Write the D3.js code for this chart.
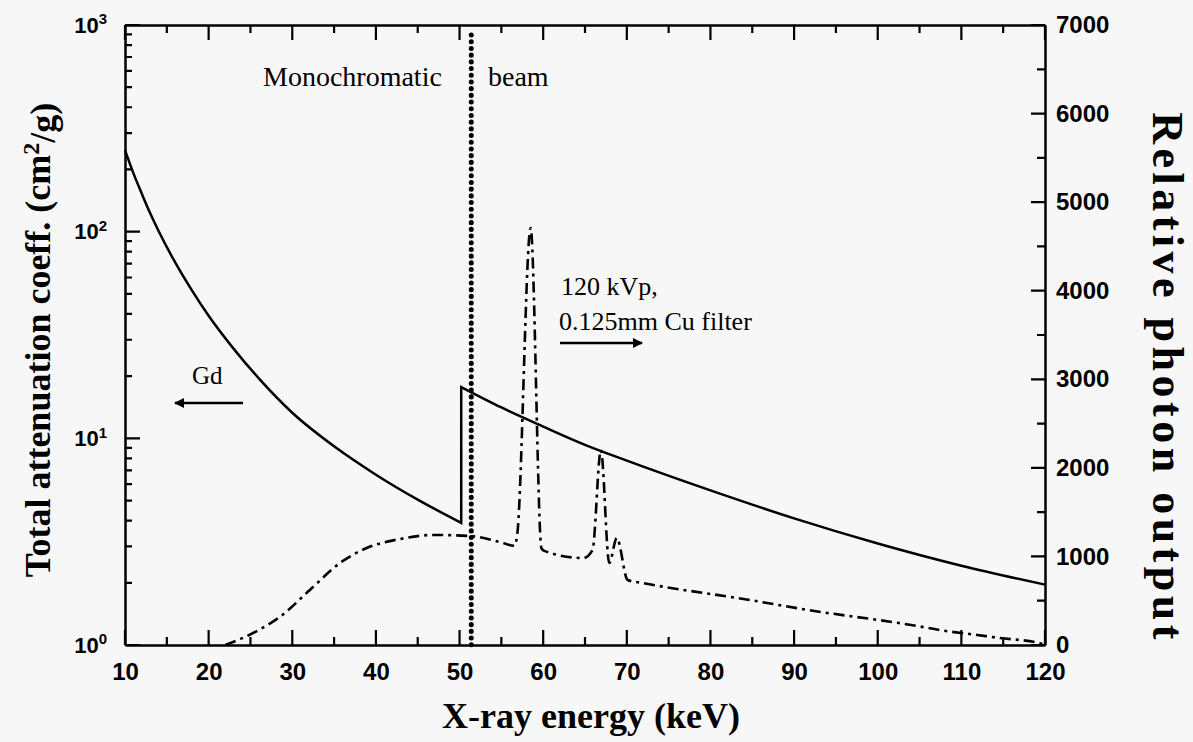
<!DOCTYPE html>
<html>
<head>
<meta charset="utf-8">
<script src="https://cdn.jsdelivr.net/npm/d3@7"></script>
<style>
  body { margin: 0; background: #f7f7f7; }
</style>
</head>
<body>
<div id="chart"></div>
<script>
// Gd total attenuation coefficient (cm2/g), split at the K-edge
const gdEnergyLow = [10, 11, 12, 13, 14, 16, 18, 20, 23, 26, 30, 35, 40, 45, 50.2];
const gdMuLow = [248, 192, 153, 123, 101, 71, 52, 39.2, 27.1, 19.5, 13.3, 9.15, 6.67, 5.05, 3.9];
const gdEnergyHigh = [50.2, 55, 60, 65, 70, 80, 90, 100, 110, 120];
const gdMuHigh = [17.7, 14.1, 11.4, 9.3, 7.8, 5.6, 4.1, 3.1, 2.42, 1.96];

// 120 kVp spectrum, 0.125 mm Cu filter (relative photon output)
const specEnergy = [22, 24.1, 26, 28.5, 32.1, 35.7, 38.9, 42.9, 46.8, 51.2, 54.8, 56.6, 56.9, 58.5, 59.8, 60.2,
  64.8, 65.9, 66.9, 67.9, 68.8, 70.1, 71.9, 84.7, 91.7, 104.7, 107.4, 111.9, 114.6, 119.4, 120];
const specCounts = [0, 80, 170, 316, 621, 926, 1095, 1197, 1242, 1231, 1163, 1120, 1250, 4708, 1090, 1060,
  982, 1073, 2200, 926, 1208, 734, 700, 508, 395, 215, 169, 113, 79, 20, 0];

const monoEnergy = 51.4;

// ticks
const xMajor = [10, 20, 30, 40, 50, 60, 70, 80, 90, 100, 110, 120];
const xMinor = [15, 25, 35, 45, 55, 65, 75, 85, 95, 105, 115];
const yLeftMajor = [1, 10, 100, 1000];
const yRightMajor = [0, 1000, 2000, 3000, 4000, 5000, 6000, 7000];
const yRightMinor = [500, 1500, 2500, 3500, 4500, 5500, 6500];

const width = 1193;
const height = 742;
const margin = { top: 25, right: 148, bottom: 97, left: 125 };

const svg = d3.select('#chart')
  .append('svg')
  .attr('width', width)
  .attr('height', height)
  .style('background', '#f7f7f7');

const x = d3.scaleLinear()
  .domain([10, 120])
  .range([margin.left, width - margin.right]);

const yL = d3.scaleLog()
  .domain([1, 1000])
  .range([height - margin.bottom, margin.top]);

const yR = d3.scaleLinear()
  .domain([0, 7000])
  .range([height - margin.bottom, margin.top]);

const yLeftMinor = [];
[1, 10, 100].forEach(p => { for (let k = 2; k <= 9; k++) yLeftMinor.push(p * k); });

const sans = '"Liberation Sans", Arial, sans-serif';
const serif = '"Liberation Serif", "Times New Roman", serif';

const xLeft = margin.left, xRight = width - margin.right;
const yBottom = height - margin.bottom, yTop = margin.top;

function styleAxis(g, size) {
  g.select('.domain').attr('stroke', '#000').attr('stroke-width', 2.5);
  g.selectAll('.tick line').remove();
  g.selectAll('.tick text')
    .attr('font-family', sans)
    .attr('font-weight', 'bold')
    .attr('font-size', size)
    .attr('fill', '#000');
}

// axes (frame + labels)
svg.append('g')
  .attr('transform', `translate(0,${yBottom})`)
  .call(d3.axisBottom(x).tickValues(xMajor).tickSize(0).tickPadding(18))
  .call(g => styleAxis(g, 24));

svg.append('g')
  .attr('transform', `translate(0,${yTop})`)
  .call(d3.axisTop(x).tickValues([]).tickSize(0))
  .call(g => styleAxis(g, 24));

const gLeft = svg.append('g')
  .attr('transform', `translate(${xLeft},0)`)
  .call(d3.axisLeft(yL).tickValues(yLeftMajor).tickSize(0).tickPadding(18))
  .call(g => styleAxis(g, 22));
gLeft.selectAll('.tick text').each(function (d) {
  const t = d3.select(this).text(null);
  t.append('tspan').text('10');
  t.append('tspan').attr('dy', '-0.55em').attr('font-size', 15).text(Math.round(Math.log10(d)));
});

svg.append('g')
  .attr('transform', `translate(${xRight},0)`)
  .call(d3.axisRight(yR).tickValues(yRightMajor).tickFormat(d3.format('d')).tickSize(0).tickPadding(11))
  .call(g => styleAxis(g, 24));

// inward tick marks on all four sides, one path
const tickSegs = [];
xMajor.forEach(d => {
  tickSegs.push([x(d), yBottom, x(d), yBottom - 15]);
  tickSegs.push([x(d), yTop, x(d), yTop + 15]);
});
xMinor.forEach(d => {
  tickSegs.push([x(d), yBottom, x(d), yBottom - 8]);
  tickSegs.push([x(d), yTop, x(d), yTop + 8]);
});
yLeftMajor.forEach(d => tickSegs.push([xLeft, yL(d), xLeft + 15, yL(d)]));
yLeftMinor.forEach(d => tickSegs.push([xLeft, yL(d), xLeft + 7, yL(d)]));
yRightMajor.forEach(d => tickSegs.push([xRight, yR(d), xRight - 14, yR(d)]));
yRightMinor.forEach(d => tickSegs.push([xRight, yR(d), xRight - 8, yR(d)]));

const tp = d3.path();
tickSegs.forEach(s => { tp.moveTo(s[0], s[1]); tp.lineTo(s[2], s[3]); });
svg.append('path')
  .attr('d', tp.toString())
  .attr('fill', 'none')
  .attr('stroke', '#000')
  .attr('stroke-width', 2.2);

// Gd attenuation curve
const gdLine = d3.line()
  .x(d => x(d[0]))
  .y(d => yL(d[1]))
  .curve(d3.curveMonotoneX);

const low = gdEnergyLow.map((e, i) => [e, gdMuLow[i]]);
const high = gdEnergyHigh.map((e, i) => [e, gdMuHigh[i]]);

svg.append('path')
  .attr('d', gdLine(low) + gdLine(high).replace(/^M/, 'L'))
  .attr('fill', 'none')
  .attr('stroke', '#000')
  .attr('stroke-width', 2.5)
  .attr('stroke-linejoin', 'miter');

// spectrum (dash-dot)
const specLine = d3.line()
  .x((d, i) => x(specEnergy[i]))
  .y(d => yR(d))
  .curve(d3.curveMonotoneX);

svg.append('path')
  .attr('d', specLine(specCounts))
  .attr('fill', 'none')
  .attr('stroke', '#000')
  .attr('stroke-width', 2.6)
  .attr('stroke-dasharray', '11,5,3,5');

// monochromatic beam marker
svg.append('line')
  .attr('x1', x(monoEnergy)).attr('x2', x(monoEnergy))
  .attr('y1', yTop + 10).attr('y2', yBottom)
  .attr('stroke', '#000')
  .attr('stroke-width', 5)
  .attr('stroke-linecap', 'round')
  .attr('stroke-dasharray', '0.1,6.6');

// arrows
svg.append('defs').append('marker')
  .attr('id', 'arrow')
  .attr('viewBox', '0 0 10 10')
  .attr('refX', 9).attr('refY', 5)
  .attr('markerWidth', 6).attr('markerHeight', 4)
  .attr('markerUnits', 'strokeWidth')
  .attr('orient', 'auto')
  .append('path')
  .attr('d', 'M0,0 L10,5 L0,10 Z')
  .attr('fill', '#000');

svg.append('line')
  .attr('x1', 560).attr('x2', 642).attr('y1', 343).attr('y2', 343)
  .attr('stroke', '#000').attr('stroke-width', 2.5)
  .attr('marker-end', 'url(#arrow)');
svg.append('line')
  .attr('x1', 243).attr('x2', 175).attr('y1', 403).attr('y2', 403)
  .attr('stroke', '#000').attr('stroke-width', 2.5)
  .attr('marker-end', 'url(#arrow)');

// annotations
const note = (txt, px, py, size) => svg.append('text')
  .attr('x', px).attr('y', py)
  .attr('font-family', serif)
  .attr('font-size', size)
  .attr('fill', '#000')
  .text(txt);

note('Monochromatic', 263, 86, 28);
note('beam', 488, 86, 28);
note('120 kVp,', 561, 295, 26);
note('0.125mm Cu filter', 559, 330, 26);
note('Gd', 192, 384, 25);

// axis titles
svg.append('text')
  .attr('x', 591).attr('y', 728)
  .attr('text-anchor', 'middle')
  .attr('font-family', serif).attr('font-weight', 'bold').attr('font-size', 36)
  .text('X-ray energy (keV)');

const yTitle = svg.append('text')
  .attr('transform', 'translate(50,340) rotate(-90)')
  .attr('text-anchor', 'middle')
  .attr('font-family', serif).attr('font-weight', 'bold').attr('font-size', 36);
yTitle.append('tspan').text('Total attenuation coeff. (cm');
yTitle.append('tspan').attr('dy', '-0.45em').attr('font-size', 24).text('2');
yTitle.append('tspan').attr('dy', '0.45em').text('/g)');

svg.append('text')
  .attr('transform', 'translate(1153,378) rotate(90)')
  .attr('text-anchor', 'middle')
  .attr('font-family', serif).attr('font-weight', 'bold').attr('font-size', 44)
  .attr('letter-spacing', 4.5)
  .text('Relative photon output');
</script>
</body>
</html>
